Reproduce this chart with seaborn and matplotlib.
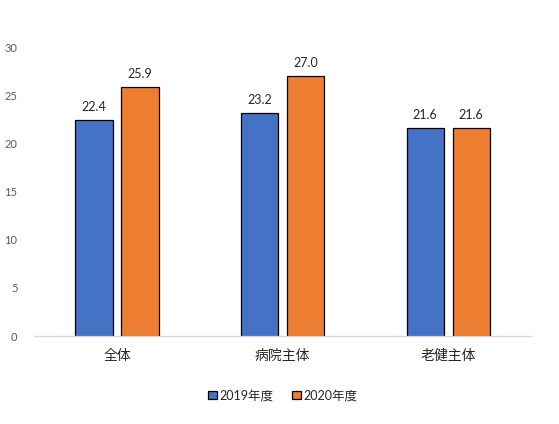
import pandas as pd
import numpy as np
import seaborn as sns
import matplotlib.pyplot as plt

categories = ['全体', '病院主体', '老健主体']
years = ['2019年度', '2020年度']
vals_2019 = [22.4, 23.2, 21.6]
vals_2020 = [25.9, 27.0, 21.6]

df = pd.DataFrame({
    'cat': categories * 2,
    'year': [years[0]] * 3 + [years[1]] * 3,
    'val': vals_2019 + vals_2020,
})

sns.set_style('white')
plt.rcParams['font.family'] = ['Lato', 'Noto Sans CJK JP', 'DejaVu Sans']

fig = plt.figure(figsize=(5.59, 4.24), dpi=100)
ax = fig.add_axes([0.061, 0.2075, 0.889, 0.6815])

palette = {'2019年度': '#4472C4', '2020年度': '#ED7D31'}
sns.barplot(data=df, x='cat', y='val', hue='year', palette=palette, width=0.556, gap=0.19,
            edgecolor='black', linewidth=0.9, saturation=1, ax=ax)

for c in ax.containers:
    ax.bar_label(c, fmt='%.1f', padding=5, fontsize=9, color='#262626')

ax.set_xlim(-0.5, 2.5)
ax.set_ylim(0, 30)
ax.set_yticks(np.arange(0, 31, 5))
ax.set_xlabel('')
ax.set_ylabel('')
ax.tick_params(axis='y', labelsize=8, colors='#595959', length=0, pad=12)
ax.tick_params(axis='x', labelsize=10, colors='#262626', length=0, pad=9)
for s in ['top', 'right', 'left']:
    ax.spines[s].set_visible(False)
ax.spines['bottom'].set_color('#d9d9d9')
ax.spines['bottom'].set_linewidth(1)

ax.legend(loc='center', bbox_to_anchor=(0.5, -0.205), ncol=2, frameon=False, fontsize=9,
          handlelength=0.7, handleheight=0.7, handletextpad=0.2, columnspacing=1.5)

fig.savefig('out.png', dpi=100)
